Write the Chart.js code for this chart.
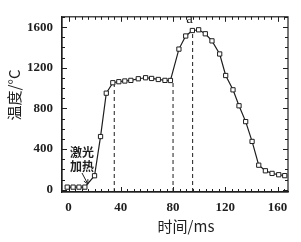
<!DOCTYPE html>
<html>
<head>
<meta charset="utf-8">
<script src="https://cdn.jsdelivr.net/npm/chart.js@4/dist/chart.umd.min.js"></script>
<style>
  html, body { margin: 0; padding: 0; background: #fff; }
  canvas { display: block; }
</style>
</head>
<body>
<canvas id="myChart" width="301" height="242"></canvas>
<script>
// time (ms) and temperature (°C)
const times = [-1, 3.5, 8, 12.5, 19.9, 24.5, 28.9, 33.9, 38.5, 43.1, 47.7, 53.4, 59, 63.6, 68.7, 73.8, 78,
  84.5, 89.7, 94.8, 99.6, 104.7, 109.8, 115.7, 120.3, 125.9, 130.5, 135.6, 140.5, 145.6, 150.7, 155.8, 160.9, 165.5];
const temps = [25, 25, 25, 25, 137, 523, 950, 1053, 1063, 1070, 1076, 1092, 1102, 1095, 1085, 1076, 1075,
  1384, 1513, 1567, 1574, 1535, 1465, 1336, 1124, 983, 826, 670, 475, 241, 186, 160, 147, 138];

// dashed markers
const markTimes = [35, 80, 95];
const markTemps = [1058, 1075, 1567];

const xTicks = [0, 40, 80, 120, 160];
const yTicks = [0, 400, 800, 1200, 1600];
const xMin = -5, xMax = 168;
const yMin = -23, yMax = 1702;

const ink = '#1e1e1e';
const tickFont = { family: '"Liberation Serif", "DejaVu Serif", serif', size: 13, weight: 'bold' };

const points = times.map((t, i) => ({ x: t, y: temps[i] }));

const dashSets = markTimes.map((t, i) => ({
  data: [{ x: t, y: yMin }, { x: t, y: markTemps[i] }],
  showLine: true,
  borderColor: ink,
  borderWidth: 1,
  borderDash: [4, 3],
  pointRadius: 0,
  order: 2
}));

// inward ticks, frame and the text labels
const extras = {
  id: 'extras',
  afterDraw(chart) {
    const c = chart.ctx;
    const a = chart.chartArea;
    const xs = chart.scales.x, ys = chart.scales.y;
    c.save();
    c.strokeStyle = ink;
    c.lineWidth = 1.2;
    c.strokeRect(a.left, a.top, a.right - a.left, a.bottom - a.top);

    c.lineWidth = 1;
    c.beginPath();
    for (let v = 0; v <= xMax; v += 5) {
      const px = Math.round(xs.getPixelForValue(v)) + 0.5;
      const len = v % 40 === 0 ? 5 : 3;
      c.moveTo(px, a.bottom); c.lineTo(px, a.bottom - len);
      c.moveTo(px, a.top); c.lineTo(px, a.top + len);
    }
    for (let v = 0; v <= yMax; v += 100) {
      const py = Math.round(ys.getPixelForValue(v)) + 0.5;
      const len = v % 400 === 0 ? 5 : 3;
      c.moveTo(a.left, py); c.lineTo(a.left + len, py);
      c.moveTo(a.right, py); c.lineTo(a.right - len, py);
    }
    c.stroke();

    c.fillStyle = ink;
    // axis titles
    c.textAlign = 'center';
    c.textBaseline = 'middle';
    c.font = '15px "Noto Sans CJK SC", sans-serif';
    c.fillText('时间/ms', 186, 226);
    c.save();
    c.translate(14, 95);
    c.rotate(-Math.PI / 2);
    c.fillText('温度/°C', 0, 0);
    c.restore();

    // heating note
    c.font = 'bold 12px "Noto Sans CJK SC", sans-serif';
    c.fillText('激光', 82, 152);
    c.fillText('加热', 82, 166);

    // arrow to heating start
    const tipX = xs.getPixelForValue(times[3]) + 3;
    const tipY = ys.getPixelForValue(temps[3]) - 3;
    c.beginPath();
    c.moveTo(82, 173);
    c.lineTo(tipX, tipY);
    c.stroke();
    c.beginPath();
    c.moveTo(tipX, tipY);
    c.lineTo(tipX - 4, tipY - 3);
    c.moveTo(tipX, tipY);
    c.lineTo(tipX, tipY - 5);
    c.stroke();

    // peak marker
    c.font = '15px "Liberation Serif", serif';
    c.fillText('a', xs.getPixelForValue(markTimes[2]) - 3, 19);
    c.restore();
  }
};

const ctx = document.getElementById('myChart');
const myChart = new Chart(ctx, {
  type: 'scatter',
  data: {
    datasets: [{
      data: points,
      showLine: true,
      borderColor: ink,
      borderWidth: 1.2,
      pointStyle: 'rect',
      pointRadius: 3,
      pointBackgroundColor: '#fff',
      pointBorderColor: ink,
      pointBorderWidth: 1,
      order: 0
    }, ...dashSets]
  },
  options: {
    responsive: false,
    animation: false,
    layout: { padding: { top: 13, right: 13, left: 0, bottom: 0 } },
    plugins: {
      legend: { display: false },
      tooltip: { enabled: false }
    },
    scales: {
      x: {
        type: 'linear',
        min: xMin,
        max: xMax,
        afterBuildTicks: s => { s.ticks = xTicks.map(v => ({ value: v })); },
        afterFit: s => { s.height = 50; },
        grid: { display: true, drawOnChartArea: false, drawTicks: false },
        border: { color: ink, width: 1.2 },
        ticks: { font: tickFont, color: ink, padding: 8, maxRotation: 0, autoSkip: false, callback: v => String(v) }
      },
      y: {
        type: 'linear',
        min: yMin,
        max: yMax,
        afterBuildTicks: s => { s.ticks = yTicks.map(v => ({ value: v })); },
        afterFit: s => { s.width = 62; },
        grid: { display: true, drawOnChartArea: false, drawTicks: false },
        border: { color: ink, width: 1.2 },
        ticks: { font: tickFont, color: ink, padding: 9, autoSkip: false, callback: v => String(v) }
      }
    }
  },
  plugins: [extras]
});
</script>
</body>
</html>
